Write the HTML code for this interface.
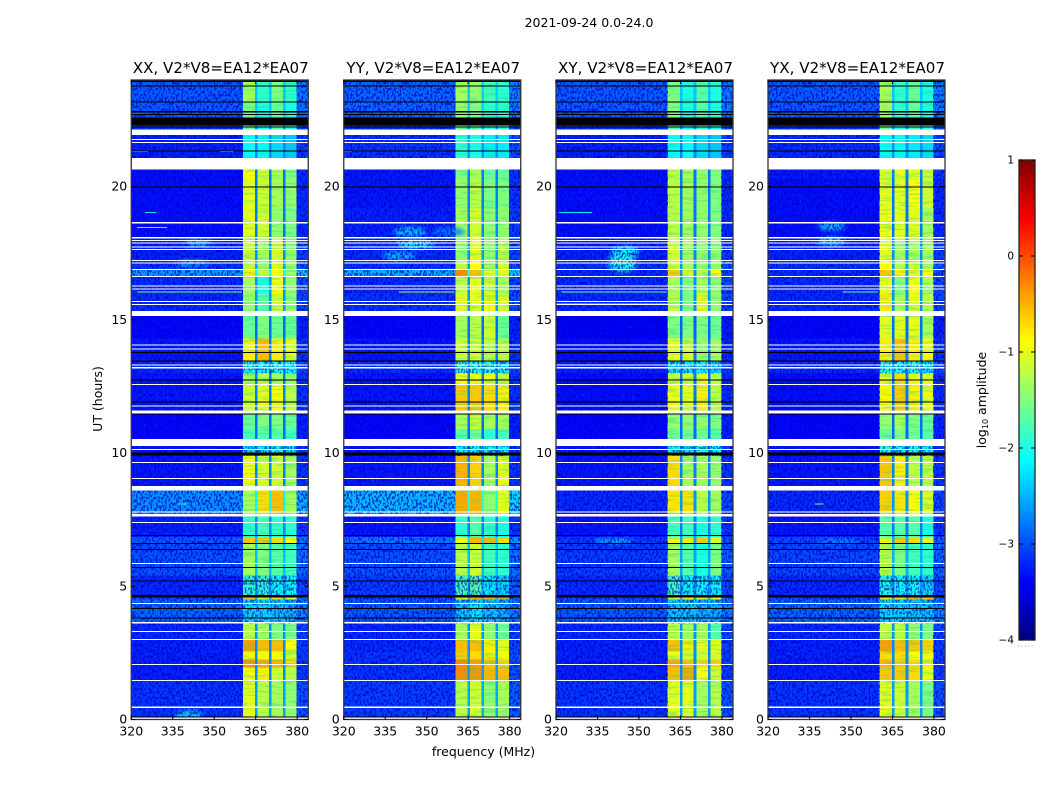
<!DOCTYPE html>
<html lang="en">
<head>
<meta charset="utf-8">
<title>2021-09-24 amplitude waterfall</title>
<style>
html,body{margin:0;padding:0;background:#fff;}
svg{display:block;}
text{font-family:"DejaVu Sans","Liberation Sans",sans-serif;fill:#000;}
</style>
</head>
<body>
<svg id="figure" width="1050" height="800" viewBox="0 0 1050 800" xmlns="http://www.w3.org/2000/svg">
  <defs>
    <filter id="speckle-light" x="0" y="0" width="100%" height="100%" color-interpolation-filters="sRGB">
      <feTurbulence type="fractalNoise" baseFrequency="0.55 0.34" numOctaves="1" seed="4"/>
      <feColorMatrix type="matrix" values="0 0 0 0 0  0 0 0 0 0.5  0 0 0 0 1  8 0 0 0 -5.6"/>
    </filter>
    <filter id="speckle-dark" x="0" y="0" width="100%" height="100%" color-interpolation-filters="sRGB">
      <feTurbulence type="fractalNoise" baseFrequency="0.55 0.34" numOctaves="1" seed="11"/>
      <feColorMatrix type="matrix" values="0 0 0 0 0  0 0 0 0 0  0 0 0 0 0.78  0 8 0 0 -3.8"/>
    </filter>
    <filter id="band-stripes" x="0" y="0" width="100%" height="100%" color-interpolation-filters="sRGB">
      <feTurbulence type="fractalNoise" baseFrequency="0.05 0.45" numOctaves="2" seed="7"/>
      <feColorMatrix type="matrix" values="0 0 0 0 0.1  0 0 0 0 0.8  0 0 0 0 0.55  6 0 0 0 -3"/>
    </filter>
    <filter id="patch-blur" x="-50%" y="-50%" width="200%" height="200%"><feGaussianBlur stdDeviation="2.5"/></filter>
  </defs>
  <text x="589" y="27" font-size="12.5" text-anchor="middle">2021-09-24 0.0-24.0</text>
  <text transform="translate(102,399) rotate(-90)" font-size="12.5" text-anchor="middle">UT (hours)</text>
  <text x="483.500" y="756" font-size="12.5" text-anchor="middle">frequency (MHz)</text>
  <text transform="translate(986,400) rotate(-90)" font-size="12.5" text-anchor="middle">log<tspan font-size="8" dy="2">10</tspan><tspan dy="-2"> amplitude</tspan></text>
  <g id="panels"></g>
  <g id="colorbar"></g>
</svg>
<script>
// Time rows, top to bottom: start and end in UT hours
const rowStart = [24,23.18,22.6,22.14,20.64,20.3,19.2,18.1,17.2,16.89,16.62,16.0,15.15,14.3,13.45,13.0,12.6,11.46,10.9,10.26,9.9,8.77,7.67,6.85,6.6,5.4,4.6,4.5,3.6,3.0,2.55,2.25,1.95,1.45];
const rowEnd = [23.18,22.6,22.14,20.64,20.3,19.2,18.1,17.2,16.89,16.62,16.0,15.15,14.3,13.45,13.0,12.6,11.46,10.9,10.26,9.9,8.77,7.67,6.85,6.6,5.4,4.6,4.5,3.6,3.0,2.55,2.25,1.95,1.45,0];

// Sub-band frequency ranges in MHz
const bandStart = [360.4,365.7,370.8,375.8];
const bandEnd = [364.8,369.8,374.9,379.8];

// log10 amplitude per time row: [background, band1, band2, band3, band4]
const xxLevels = [
[-2.9,-1.3,-1.9,-1.5,-1.9],[-2.9,-1.5,-2.0,-1.6,-2.0],[-3.1,-1.6,-2,-1.7,-1.9],[-3.2,-2.1,-2.1,-2.3,-2.4],
[-3.3,-0.9,-1.1,-1.3,-1.5],[-3.3,-1.0,-1.1,-1.3,-1.4],[-3.3,-1.0,-1.1,-1.4,-1.5],[-3.2,-1.1,-1.3,-1.1,-1.4],
[-3.1,-1.2,-1.4,-1.0,-1.4],[-2.6,-0.8,-1.2,-0.9,-1.3],[-3.15,-1.3,-2.0,-0.9,-1.4],[-3.15,-1.4,-1.7,-1.1,-1.4],
[-3.35,-1.6,-1.5,-1.6,-1.6],[-3.25,-0.8,-0.55,-0.8,-1.0],[-3.15,-2.0,-2.1,-2.0,-2.1],[-3.25,-1.3,-1.2,-1.3,-1.4],
[-3.25,-1.1,-1.0,-0.9,-1.2],[-3.35,-1.6,-1.5,-1.5,-1.6],[-3.35,-1.8,-1.7,-1.7,-1.8],[-3.25,-2.2,-2.2,-2.0,-2.2],
[-3.25,-0.9,-1.1,-1.1,-1.3],[-2.65,-1.3,-0.7,-0.55,-1.3],[-3.2,-1.9,-1.8,-1.9,-1.9],[-2.9,-0.6,-0.6,-0.7,-0.9],
[-2.95,-1.3,-1.5,-1.7,-1.8],[-3.15,-1.9,-1.9,-2.1,-2.1],[-3.0,-0.6,-0.9,-0.7,-1.0],[-2.85,-2.3,-2.3,-2.4,-2.5],
[-3.15,-1.2,-1.3,-1.5,-1.5],[-3.2,-0.4,-0.55,-0.55,-0.9],[-3.2,-0.9,-0.9,-0.9,-1.1],[-3.2,-0.35,-0.45,-0.5,-0.7],
[-3.2,-0.9,-0.8,-1.1,-1.2],[-3.1,-1.0,-1.2,-1.3,-1.4]];
const yyLevels = [
[-2.85,-1.3,-1.4,-1.8,-1.9],[-2.85,-1.4,-1.5,-1.9,-1.9],[-3.1,-1.6,-1.7,-1.9,-1.9],[-3.1,-1.9,-2.0,-2.2,-2.2],
[-3.25,-1.5,-1.3,-1.6,-1.6],[-3.25,-1.4,-1.2,-1.5,-1.5],[-3.2,-1.3,-1.1,-1.4,-1.4],[-3.15,-1.4,-1.0,-1.4,-1.2],
[-3.1,-1.2,-0.9,-1.3,-1.1],[-2.5,-0.3,-0.55,-1.0,-1.0],[-3.15,-1.2,-1.0,-1.1,-1.3],[-3.1,-1.0,-1.0,-0.95,-1.1],
[-3.35,-1.3,-1.2,-1.1,-1.6],[-3.25,-1.1,-1.1,-1.2,-1.2],[-3.15,-1.9,-2.0,-2.0,-2.2],[-3.25,-0.9,-0.9,-1.0,-1.1],
[-3.25,-0.6,-0.6,-0.7,-0.8],[-3.35,-1.3,-1.1,-1.3,-1.3],[-3.35,-1.7,-1.6,-1.9,-1.8],[-3.25,-2.1,-2.1,-2.1,-2.1],
[-3.25,-0.5,-0.65,-1.3,-1.0],[-2.45,-0.45,-0.5,-1.4,-1.0],[-3.25,-1.9,-1.7,-1.9,-2.0],[-2.75,-0.9,-0.5,-0.5,-0.7],
[-2.95,-1.2,-1.1,-1.8,-1.9],[-3.05,-1.8,-1.7,-2.2,-2.3],[-3.0,-0.8,-0.4,-0.5,-0.5],[-2.9,-2.4,-2.2,-2.4,-2.5],
[-3.15,-1.3,-1.0,-1.4,-1.6],[-3.15,-0.55,-0.55,-0.8,-1.0],[-3.1,-0.6,-0.7,-0.8,-0.9],[-3.1,-0.3,-0.4,-0.55,-0.65],
[-3.1,-0.3,-0.35,-0.5,-0.55],[-3.05,-1.2,-1.1,-1.4,-1.3]];
const xyLevels = [
[-2.9,-1.5,-2.0,-1.7,-2.0],[-2.9,-1.5,-2.0,-1.7,-2.0],[-3.1,-1.7,-2,-1.8,-2],[-3.2,-2.1,-2.1,-2.3,-2.4],
[-3.3,-1.2,-1.3,-1.4,-1.5],[-3.3,-1.2,-1.3,-1.4,-1.5],[-3.3,-1.2,-1.3,-1.4,-1.5],[-3.2,-1.1,-1.3,-1.4,-1.4],
[-3.1,-1.1,-1.3,-1.4,-1.4],[-3.15,-0.6,-1.1,-1.2,-0.9],[-3.15,-1.3,-1.5,-1.3,-1.4],[-3.15,-1.2,-1.5,-1.0,-1.4],
[-3.4,-1.5,-1.5,-1.5,-1.6],[-3.3,-1.0,-1.1,-1.4,-1.3],[-3.2,-2.2,-2.2,-2.1,-2.3],[-3.3,-1.1,-1.1,-0.9,-1.2],
[-3.3,-0.95,-1.0,-0.8,-1.2],[-3.35,-1.4,-1.4,-1.4,-1.5],[-3.35,-1.6,-1.6,-1.6,-1.7],[-3.25,-2.1,-2.2,-2.0,-2.1],
[-3.25,-0.7,-1.3,-1.3,-1.4],[-3.15,-0.75,-0.75,-1.2,-1.3],[-3.25,-1.8,-1.8,-2.0,-1.9],[-3.05,-0.9,-0.8,-0.6,-1.0],
[-3.05,-1.3,-1.7,-2.0,-1.5],[-3.15,-1.8,-2.1,-2.1,-2.1],[-3.0,-0.8,-0.8,-0.8,-0.8],[-2.9,-2.4,-2.4,-2.5,-2.5],
[-3.15,-1.2,-1.3,-1.3,-1.7],[-3.2,-0.55,-0.8,-1.0,-1.0],[-3.2,-1.0,-1.1,-1.1,-1.1],[-3.2,-0.45,-0.55,-0.7,-0.65],
[-3.2,-0.55,-0.45,-0.9,-1.1],[-3.1,-1.0,-1.0,-1.3,-1.2]];
const yxLevels = [
[-2.9,-1.3,-1.9,-1.6,-2.0],[-2.9,-1.3,-1.9,-1.6,-2.0],[-3.1,-1.6,-2,-1.7,-1.9],[-3.15,-2.1,-2.1,-2.2,-2.3],
[-3.25,-1.1,-1.0,-1.0,-1.1],[-3.3,-1.0,-1.0,-0.9,-1.1],[-3.3,-0.95,-1.0,-1.0,-1.3],[-3.2,-1.0,-1.3,-1.3,-1.3],
[-3.1,-0.9,-1.2,-1.1,-1.3],[-3.15,-0.6,-0.8,-1.0,-0.9],[-3.15,-1.0,-1.5,-0.9,-1.3],[-3.15,-0.8,-1.3,-1.0,-1.2],
[-3.35,-1.0,-1.0,-1.0,-1.3],[-3.25,-0.8,-0.55,-0.8,-0.9],[-3.15,-2.0,-2.1,-2.0,-2.2],[-3.3,-0.95,-0.7,-0.9,-1.0],
[-3.3,-0.85,-0.6,-0.8,-1.0],[-3.35,-1.4,-1.3,-1.5,-1.6],[-3.35,-1.6,-1.5,-1.6,-1.7],[-3.25,-1.9,-2.1,-2.0,-2.1],
[-3.25,-0.6,-0.8,-1.2,-1.2],[-3.15,-0.65,-0.75,-0.85,-1.0],[-3.25,-1.7,-1.7,-1.7,-2.0],[-3.0,-0.95,-0.6,-0.7,-1.0],
[-3.0,-1.2,-1.5,-1.8,-1.9],[-3.15,-2.0,-2.1,-2.1,-2.3],[-3.0,-0.7,-0.7,-0.5,-0.6],[-2.85,-2.3,-2.3,-2.4,-2.4],
[-3.15,-1.2,-1.2,-1.4,-1.5],[-3.2,-0.4,-0.55,-0.6,-0.65],[-3.2,-0.7,-0.7,-0.9,-0.9],[-3.2,-0.5,-0.6,-0.7,-0.8],
[-3.2,-0.6,-0.6,-0.7,-1.0],[-3.1,-1.0,-1.1,-1.3,-1.5]];

// Rows whose sub-bands look noisy
const noisyRows = [14,19,25,27];

// Flagged time ranges [start, end] in hours: no data (white)
const whiteRanges = [[22.14,21.93],[21.79,21.74],[21.68,21.63],[21.07,20.64],[18.68,18.62],[18.11,18.06],[18.0,17.96],[17.9,17.86],[17.76,17.72],[17.66,17.62],[17.24,17.2],[17.16,17.12],[16.91,16.87],[16.64,16.6],[16.29,16.25],[16.17,16.13],[15.7,15.66],[15.6,15.56],[15.33,15.15],[14.07,14.03],[13.92,13.88],[13.32,13.28],[13.22,13.18],[12.6,12.56],[11.78,11.74],[11.59,11.46],[10.53,10.26],[10.16,10.12],[9.66,9.62],[9.07,9.03],[8.77,8.59],[7.81,7.77],[7.71,7.62],[7.42,7.38],[6.63,6.59],[5.88,5.84],[4.38,4.34],[3.66,3.6],[3.33,3.29],[3.03,2.99],[2.09,2.05],[1.49,1.45],[0.48,0.44],[0.07,0]];
// Flagged time ranges [start, end] in hours: zero amplitude (black)
const blackRanges = [[24,23.92],[23.8,23.76],[23.2,23.16],[22.83,22.78],[22.72,22.68],[22.6,22.3],[22.26,22.22],[21.35,21.31],[20.0,19.96],[13.8,13.76],[13.47,13.43],[12.76,12.72],[11.94,11.9],[11.48,11.44],[10.02,9.9],[6.92,6.88],[6.62,6.58],[6.4,6.36],[5.72,5.68],[5.22,5.18],[4.67,4.57],[4.18,4.14],[3.83,3.79],[0.11,0.07]];

// Narrow interference lines: panel, hour, start MHz, end MHz, level
const rfiPanel = [0,0,0,0,0,0,1,1,2,2,2,3,3,1,0,3];
const rfiHour = [21.33,21.33,19.05,18.48,16.07,15.6,16.07,21.33,16.07,15.62,19.05,16.07,15.6,15.6,8.1,8.1];
const rfiStart = [320,352,325,322,322,320,340,320,322,320,321,347,350,320,337,337];
const rfiEnd = [326,357,329,333,360,360,360,323,360,360,333,360,360,345,340,340];
const rfiLevel = [-2.0,-2.0,-2.2,-1.9,-1.5,-1.9,-1.3,-2.3,-1.6,-1.6,-2.2,-1.7,-2.0,-2.3,-2.0,-1.6];

// Diffuse emission patches: panel, centre hour, centre MHz, half-height hours, half-width MHz, level
const patchPanel = [0,0,1,1,1,1,2,2,3,3,2,3,0];
const patchHour = [17.88,17.12,18.3,17.85,17.4,18.3,17.15,17.55,18.5,17.95,6.7,6.7,0.15];
const patchMHz = [344,342,344,346,340,358,344,345,343,343,341,345,341];
const patchHalfHours = [0.12,0.12,0.18,0.15,0.15,0.15,0.35,0.2,0.15,0.15,0.08,0.08,0.2];
const patchHalfMHz = [5,6,6,7,6,6,5,5,5,5,7,8,5];
const patchLevel = [-2.4,-2.5,-2.4,-2.2,-2.4,-2.7,-2.0,-2.1,-2.4,-2.2,-2.3,-2.6,-2.4];

const panelTitles = ["XX, V2*V8=EA12*EA07","YY, V2*V8=EA12*EA07","XY, V2*V8=EA12*EA07","YX, V2*V8=EA12*EA07"];
const panelData = [xxLevels,yyLevels,xyLevels,yxLevels];
const xTickValues = [320,335,350,365,380];
const yTickValues = [0,5,10,15,20];
const colorTickValues = [1,0,-1,-2,-3,-4];

const SVGNS = "http://www.w3.org/2000/svg";
const panelLeft = [131.25,343.75,556,768];
const panelWidth = 177, plotTop = 80, plotBottom = 719.5;
const fMin = 320, fMax = 384, hMax = 24;
const barLeft = 1019, barRight = 1035, barTop = 160, barBottom = 640;

function hourY(h){ return plotBottom - (plotBottom - plotTop) * h / hMax; }
function freqX(p, f){ return panelLeft[p] + (f - fMin) / (fMax - fMin) * panelWidth; }
function levelY(v){ return barBottom - (v + 4) / 5 * (barBottom - barTop); }
function clamp(v){ return Math.max(0, Math.min(1, v)); }
function jet(level){
  const t = clamp((level + 4) / 5);
  const r = clamp(Math.min(4 * t - 1.5, -4 * t + 4.5));
  const g = clamp(Math.min(4 * t - 0.5, -4 * t + 3.5));
  const b = clamp(Math.min(4 * t + 0.5, -4 * t + 2.5));
  return "rgb(" + Math.round(r * 255) + "," + Math.round(g * 255) + "," + Math.round(b * 255) + ")";
}
function mk(parent, tag, attrs){
  const el = document.createElementNS(SVGNS, tag);
  for (const k in attrs) el.setAttribute(k, attrs[k]);
  parent.appendChild(el);
  return el;
}

const panelsRoot = document.getElementById("panels");
panelData.forEach(function(levels, p){
  const g = mk(panelsRoot, "g", {});
  
  

  const clipId = "clip" + p;
  const clip = mk(g, "clipPath", {id: clipId});
  mk(clip, "rect", {x: panelLeft[p], y: plotTop, width: panelWidth, height: plotBottom - plotTop});
  const data = mk(g, "g", {"clip-path": "url(#" + clipId + ")", "shape-rendering": "crispEdges"});
  
  

  levels.forEach(function(row, r){
    const y0 = hourY(rowStart[r]), y1 = hourY(rowEnd[r]);
    const spans = [[fMin, fMax, row[0]]];
    spans.push([bandEnd[3], fMax, row[0] + 0.15]);
    for (let b = 0; b < 4; b++){
      spans.push([bandStart[b], bandEnd[b], row[b + 1]]);
      if (b < 3) spans.push([bandEnd[b], bandStart[b + 1], row[0] + 0.5]);
    }
    spans.forEach(function(s){
      const x0 = freqX(p, s[0]), x1 = freqX(p, s[1]);
      const cell = mk(data, "rect", {x: x0, y: y0, width: x1 - x0, height: y1 - y0 + 0.5, fill: jet(s[2])});
      
      
    });
  });

  const soft = mk(g, "g", {"clip-path": "url(#" + clipId + ")"});
  patchPanel.forEach(function(pp, i){
    if (pp !== p) return;
    const patch = mk(soft, "ellipse", {
      cx: freqX(p, patchMHz[i]), cy: hourY(patchHour[i]),
      rx: patchHalfMHz[i] / (fMax - fMin) * panelWidth,
      ry: patchHalfHours[i] / hMax * (plotBottom - plotTop),
      fill: jet(patchLevel[i]), filter: "url(#patch-blur)"
    });
    
    
  });

  const noise = mk(g, "g", {"clip-path": "url(#" + clipId + ")"});
  
  
  [[fMin, bandStart[0]], [bandEnd[3], fMax]].forEach(function(s){
    const a = {x: freqX(p, s[0]), y: plotTop, width: freqX(p, s[1]) - freqX(p, s[0]), height: plotBottom - plotTop};
    mk(noise, "rect", Object.assign({filter: "url(#speckle-light)", opacity: 0.7}, a));
    mk(noise, "rect", Object.assign({filter: "url(#speckle-dark)", opacity: 0.7}, a));
  });
  for (let b = 0; b < 4; b++){
    mk(noise, "rect", {x: freqX(p, bandStart[b]), y: plotTop, width: freqX(p, bandEnd[b]) - freqX(p, bandStart[b]), height: plotBottom - plotTop, filter: "url(#band-stripes)", opacity: 0.3});
  }
  noisyRows.forEach(function(r){
    const a = {x: freqX(p, bandStart[0]), y: hourY(rowStart[r]), width: freqX(p, bandEnd[3]) - freqX(p, bandStart[0]), height: hourY(rowEnd[r]) - hourY(rowStart[r])};
    mk(noise, "rect", Object.assign({filter: "url(#speckle-dark)", opacity: 0.6}, a));
  });

  const lines = mk(g, "g", {"clip-path": "url(#" + clipId + ")", "shape-rendering": "crispEdges"});
  rfiPanel.forEach(function(pp, i){
    if (pp !== p) return;
    const line = mk(lines, "rect", {x: freqX(p, rfiStart[i]), y: hourY(rfiHour[i]), width: freqX(p, rfiEnd[i]) - freqX(p, rfiStart[i]), height: 1, fill: jet(rfiLevel[i])});
    
    
  });
  whiteRanges.forEach(function(w){
    const gap = mk(lines, "rect", {x: panelLeft[p], y: hourY(w[0]), width: panelWidth, height: hourY(w[1]) - hourY(w[0]), fill: "#fff"});
    
    
  });
  blackRanges.forEach(function(w){
    const gap = mk(lines, "rect", {x: panelLeft[p], y: hourY(w[0]), width: panelWidth, height: hourY(w[1]) - hourY(w[0]), fill: "#000"});
    
    
  });

  const frame = mk(g, "rect", {x: panelLeft[p], y: plotTop, width: panelWidth, height: plotBottom - plotTop, fill: "none", stroke: "#333", "stroke-width": 1.3});
  
  

  xTickValues.forEach(function(v){
    const x = freqX(p, v);
    const t1 = mk(g, "line", {x1: x, x2: x, y1: plotBottom, y2: plotBottom - 4, stroke: "#000", "stroke-width": 1});
    
    
    const t2 = mk(g, "line", {x1: x, x2: x, y1: plotTop, y2: plotTop + 4, stroke: "#000", "stroke-width": 1});
    
    
    const label = mk(g, "text", {x: x, y: plotBottom + 16, "font-size": 12.5, "text-anchor": "middle"});
    label.textContent = v;
    
    
  });
  yTickValues.forEach(function(v){
    const y = hourY(v);
    const t1 = mk(g, "line", {x1: panelLeft[p], x2: panelLeft[p] + 4, y1: y, y2: y, stroke: "#000", "stroke-width": 1});
    
    
    const t2 = mk(g, "line", {x1: panelLeft[p] + panelWidth - 4, x2: panelLeft[p] + panelWidth, y1: y, y2: y, stroke: "#000", "stroke-width": 1});
    
    
    const label = mk(g, "text", {x: panelLeft[p] - 4, y: y + 4, "font-size": 12.5, "text-anchor": "end"});
    label.textContent = v;
    
    
  });

  const title = mk(g, "text", {x: panelLeft[p] + panelWidth / 2 + 1, y: 73, "font-size": 15.1, "text-anchor": "middle"});
  title.textContent = panelTitles[p];
  
  
});

const cbar = document.getElementById("colorbar");
const rampLevels = [];
for (let i = 0; i < 240; i++) rampLevels.push(-4 + (i + 0.5) * 5 / 240);
const ramp = mk(cbar, "g", {"shape-rendering": "crispEdges"});


rampLevels.forEach(function(v){
  mk(ramp, "rect", {x: barLeft, y: levelY(v + 5 / 480), width: barRight - barLeft, height: (barBottom - barTop) / 240 + 0.5, fill: jet(v)});
});
const barFrame = mk(cbar, "rect", {x: barLeft, y: barTop, width: barRight - barLeft, height: barBottom - barTop, fill: "none", stroke: "#222", "stroke-width": 1.3});


colorTickValues.forEach(function(v){
  const y = levelY(v);
  const t1 = mk(cbar, "line", {x1: barLeft, x2: barLeft + 4, y1: y, y2: y, stroke: "#000", "stroke-width": 1});
  
  
  const t2 = mk(cbar, "line", {x1: barRight - 4, x2: barRight, y1: y, y2: y, stroke: "#000", "stroke-width": 1});
  
  
  const label = mk(cbar, "text", {x: 1014, y: y + 3.5, "font-size": 10.5, "text-anchor": "end"});
  label.textContent = String(v).replace("-", "\u2212");
  
  
});
const dots = mk(cbar, "line", {x1: 1018, x2: 1035, y1: 646, y2: 646, stroke: "#999", "stroke-width": 1, "stroke-dasharray": "1 2.4"});


</script>
</body>
</html>
